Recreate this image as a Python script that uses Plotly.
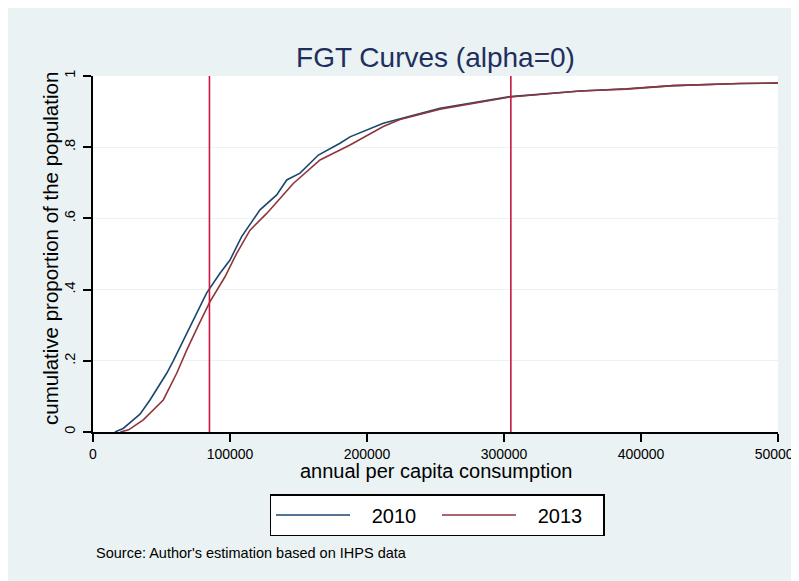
import plotly.graph_objects as go

# ---- data ----
x2010 = [16000, 22000, 29400, 34300, 41600, 53800, 58600, 65900, 74000, 82900,
         92700, 100000, 108500, 121900, 134100, 141400, 151100, 164500, 180300,
         187600, 211900, 224100, 253300, 304400, 355500, 389600, 423400, 472300, 500000]
y2010 = [0, 0.01, 0.034, 0.05, 0.09, 0.165, 0.20, 0.258, 0.32, 0.39,
         0.446, 0.483, 0.549, 0.624, 0.666, 0.708, 0.727, 0.778, 0.811,
         0.829, 0.867, 0.879, 0.909, 0.942, 0.958, 0.964, 0.973, 0.979, 0.980]

x2013 = [20000, 26000, 36700, 51300, 61100, 68400, 77000, 85400, 96350, 104900,
         114600, 126800, 136500, 146200, 165700, 180300, 187600, 211900, 224100,
         253300, 304400, 355500, 389600, 423400, 472300, 500000]
y2013 = [0, 0.006, 0.034, 0.09, 0.165, 0.23, 0.30, 0.366, 0.436, 0.502,
         0.567, 0.614, 0.656, 0.698, 0.764, 0.792, 0.806, 0.858, 0.878,
         0.907, 0.941, 0.958, 0.963, 0.973, 0.979, 0.980]

poverty_lines = [85000, 305000]

x_ticks = [0, 100000, 200000, 300000, 400000, 500000]
x_ticklabels = ["0", "100000", "200000", "300000", "400000", "500000"]
y_ticks = [0, 0.2, 0.4, 0.6, 0.8, 1.0]
y_ticklabels = ["0", ".2", ".4", ".6", ".8", "1"]

BLUE = "#1A476F"
RED = "#90353B"
VLINE = "#C8183C"
BG = "#EAF2F3"
FONT = "Liberation Sans, Arial, sans-serif"

# page body has an 8px margin; figure placed at (8, 8)
W, H = 791, 573
L, T, R, B = 85, 68, 21, 149
PW, PH = W - L - R, H - T - B

fig = go.Figure()
fig.add_trace(go.Scatter(x=x2010, y=y2010, mode="lines", name="\u00a0\u00a0 2010",
                         line=dict(color=BLUE, width=1.6)))
fig.add_trace(go.Scatter(x=x2013, y=y2013, mode="lines", name="\u00a0\u00a0 2013",
                         line=dict(color=RED, width=1.6)))

shapes = []
for pl in poverty_lines:
    shapes.append(dict(type="line", xref="x", yref="paper", x0=pl, x1=pl, y0=0, y1=1,
                       line=dict(color=VLINE, width=1.6), layer="above"))

fig.update_layout(
    width=W, height=H,
    margin=dict(l=L, r=R, t=T, b=B, autoexpand=False),
    paper_bgcolor=BG, plot_bgcolor="white",
    font=dict(family=FONT, color="black"),
    title=dict(text="FGT Curves (alpha=0)", x=(L + PW / 2) / W, xanchor="center",
               y=1 - 49 / H, yanchor="middle", yref="container",
               font=dict(size=28, color="#1E2F5E", family=FONT)),
    showlegend=True,
    legend=dict(orientation="h", x=(429 - L) / PW, xanchor="center",
                y=(424 - 507) / PH, yanchor="middle",
                bgcolor="white", bordercolor="black", borderwidth=1.5,
                font=dict(size=20, family=FONT), itemwidth=74, entrywidth=77),
    shapes=shapes,
    annotations=[
        dict(text="Source: Author's estimation based on IHPS data",
             xref="paper", yref="paper", x=(86 - L) / PW, y=(424 - 545) / PH,
             xanchor="left", yanchor="middle", showarrow=False,
             font=dict(size=14.5, family=FONT, color="black")),
        dict(text="annual per capita consumption",
             xref="paper", yref="paper", x=0.5, y=(424 - 463) / PH,
             xanchor="center", yanchor="middle", showarrow=False,
             font=dict(size=20, family=FONT, color="black")),
        dict(text="cumulative proportion of the population", textangle=-90,
             xref="paper", yref="paper", x=(42 - L) / PW, y=(424 - 241) / PH,
             xanchor="center", yanchor="middle", showarrow=False,
             font=dict(size=20.5, family=FONT, color="black")),
    ],
)

fig.update_xaxes(range=[0, 500000], tickvals=x_ticks, ticktext=x_ticklabels,
                 showgrid=False, zeroline=False, showline=True, linecolor="black",
                 linewidth=1.5, ticks="outside", ticklen=8, tickwidth=1.5, tickcolor="black",
                 tickfont=dict(size=14, family=FONT), automargin=False,
                 ticklabeloverflow="allow")
fig.update_yaxes(range=[0, 1], tickvals=y_ticks, ticktext=y_ticklabels,
                 showgrid=True, gridcolor=BG, gridwidth=1.2,
                 zeroline=False, showline=True, linecolor="black",
                 linewidth=1.5, ticks="outside", ticklen=8, tickwidth=1.5, tickcolor="black",
                 tickangle=-90, tickfont=dict(size=14.5, family=FONT), ticklabelstandoff=2,
                 automargin=False)

fig.write_html("out.html")
